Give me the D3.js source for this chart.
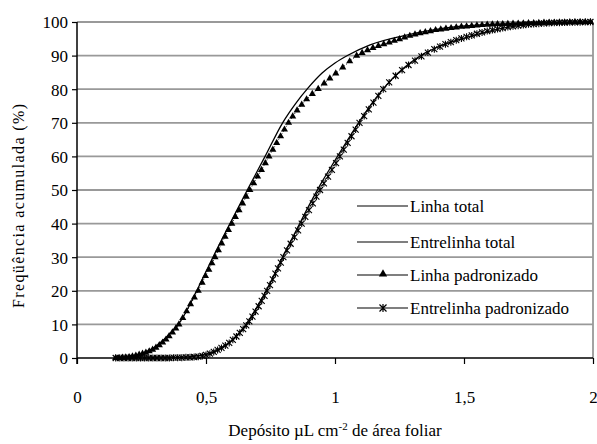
<!DOCTYPE html>
<html>
<head>
<meta charset="utf-8">
<script src="https://cdn.jsdelivr.net/npm/d3@7"></script>
<style>
  body { margin: 0; background: #fff; }
</style>
</head>
<body>
<div id="chart"></div>
<script>
// values: [deposit, cumulative %]
var linhaTotal = [[0.15,0],[0.2,0.3],[0.25,1.2],[0.3,3.2],[0.35,6.5],[0.4,10.8],[0.464,20],[0.527,30],
  [0.593,40],[0.66,50],[0.729,60],[0.797,70],[0.848,75.8],[0.895,80.3],[0.95,84.8],[1.0,87.8],[1.05,90.1],
  [1.136,93.2],[1.264,95.9],[1.37,97.5],[1.47,98.6],[1.6,99.3],[1.75,99.7],[2.0,100]];

var entrelinhaTotal = [[0.15,0],[0.3,0],[0.4,0.2],[0.5,1.0],[0.55,2.5],[0.6,5.3],[0.65,9.5],[0.7,15.5],
  [0.75,22.5],[0.8,30.5],[0.85,38],[0.9,45.5],[0.95,52.5],[1.0,58.8],[1.05,65],[1.1,71],[1.15,76.5],
  [1.2,81.3],[1.25,85.2],[1.3,88.3],[1.35,90.8],[1.4,92.6],[1.5,95.2],[1.6,97.3],[1.7,98.8],[1.8,99.6],
  [1.9,99.9],[2.0,100]];

var linhaPadr = [[0.15,0],[0.163,0],[0.176,0.1],[0.189,0.2],[0.202,0.3],[0.215,0.5],[0.228,0.7],[0.241,1.0],
  [0.254,1.3],[0.267,1.6],[0.28,2.0],[0.293,2.5],[0.306,3.1],[0.319,3.8],[0.332,4.6],[0.345,5.5],[0.357,6.5],
  [0.37,7.6],[0.383,8.8],[0.395,10],[0.41,11.9],[0.425,13.9],[0.44,16.0],[0.455,18.0],[0.47,20],
  [0.485,22.4],[0.498,24.4],[0.511,26.3],[0.523,28.2],[0.535,30],[0.548,32.1],[0.561,34.1],[0.574,36.1],
  [0.587,38.1],[0.6,40],[0.614,42],[0.628,44],[0.642,46],[0.656,48],[0.67,50],[0.685,52],[0.7,54],
  [0.715,56],[0.73,58],[0.744,60],[0.759,62],[0.774,64],[0.789,66],[0.804,68],[0.82,70],[0.836,71.9],
  [0.853,73.7],[0.871,75.4],[0.89,77.0],[0.912,78.6],[0.935,80.1],[0.958,81.7],[0.98,83.2],[1.003,84.7],
  [1.03,86.5],[1.057,88.3],[1.084,90],[1.105,90.8],[1.126,91.6],[1.147,92.3],[1.168,92.9],[1.189,93.4],
  [1.21,93.9],[1.23,94.4],[1.25,94.9],[1.27,95.4],[1.29,95.9],[1.31,96.3],[1.33,96.7],[1.35,97.0],
  [1.37,97.3],[1.39,97.6],[1.41,97.8],[1.43,98.0],[1.45,98.2],[1.47,98.4],[1.49,98.6],[1.51,98.7],
  [1.53,98.85],[1.55,99.0],[1.57,99.1],[1.59,99.2],[1.61,99.3],[1.63,99.35],[1.65,99.4],[1.67,99.45],
  [1.69,99.5],[1.71,99.55],[1.73,99.6],[1.75,99.65],[1.77,99.7],[1.79,99.75],[1.81,99.8],[1.83,99.82],
  [1.85,99.85],[1.87,99.88],[1.89,99.9],[1.91,99.92],[1.93,99.94],[1.95,99.96],[1.97,99.98],[1.99,100]];

var entrelinhaPadr = [[0.15,0],[0.166,0],[0.182,0],[0.198,0],[0.214,0],[0.23,0],[0.246,0],[0.262,0],
  [0.278,0],[0.294,0],[0.31,0],[0.326,0],[0.342,0],[0.358,0],[0.374,0.1],[0.39,0.1],[0.406,0.1],
  [0.422,0.2],[0.438,0.2],[0.454,0.3],[0.47,0.4],[0.486,0.6],[0.5,0.9],[0.515,1.3],[0.53,1.8],[0.545,2.4],
  [0.56,3.0],[0.575,3.7],[0.59,4.5],[0.604,5.4],[0.618,6.4],[0.631,7.5],[0.644,8.6],[0.656,9.7],
  [0.668,10.9],[0.68,12.3],[0.692,13.8],[0.704,15.4],[0.716,17.0],[0.727,18.5],[0.737,20],[0.748,21.7],
  [0.759,23.4],[0.769,25.1],[0.779,26.7],[0.79,28.4],[0.8,30],[0.814,32],[0.828,34],[0.843,36],
  [0.857,38],[0.871,40],[0.885,42],[0.899,44],[0.914,46],[0.928,48],[0.942,50],[0.957,52],[0.973,54],
  [0.988,56],[1.004,58],[1.019,60],[1.034,62],[1.049,64],[1.064,66],[1.08,68],[1.095,70],[1.113,72],
  [1.131,74],[1.149,76],[1.168,78],[1.187,80],[1.21,82],[1.235,84],[1.26,85.7],[1.285,87.2],[1.31,88.5],
  [1.335,89.8],[1.36,90.9],[1.385,91.9],[1.407,92.7],[1.428,93.4],[1.449,94.0],[1.47,94.6],[1.49,95.1],
  [1.51,95.6],[1.53,96.0],[1.55,96.5],[1.57,96.9],[1.59,97.3],[1.61,97.6],[1.63,97.9],[1.65,98.2],
  [1.67,98.5],[1.69,98.7],[1.71,98.9],[1.73,99.1],[1.75,99.3],[1.77,99.4],[1.79,99.5],[1.81,99.6],
  [1.83,99.7],[1.85,99.75],[1.87,99.8],[1.89,99.85],[1.91,99.9],[1.93,99.92],[1.95,99.95],[1.97,99.97],
  [1.99,100]];

var xTicks = [0, 0.5, 1, 1.5, 2];
var yTicks = [0, 10, 20, 30, 40, 50, 60, 70, 80, 90, 100];
var legendNames = ["Linha total", "Entrelinha total", "Linha padronizado", "Entrelinha padronizado"];

var width = 597, height = 444;
var mLeft = 77, mRight = 593, mTop = 22, mBottom = 358;
var serif = "'Liberation Serif'";
var fs = "17px";

var svg = d3.select("#chart").append("svg")
    .attr("width", width)
    .attr("height", height)
    .style("font-family", serif);

svg.append("rect").attr("width", width).attr("height", height).attr("fill", "#fff");

var x = d3.scaleLinear().domain([0, 2]).range([mLeft, mRight]);
var y = d3.scaleLinear().domain([0, 100]).range([mBottom, mTop]);

// gridlines
svg.append("g").selectAll("line")
  .data(yTicks.filter(d => d > 0))
  .enter().append("line")
    .attr("x1", mLeft).attr("x2", mRight)
    .attr("y1", d => y(d)).attr("y2", d => y(d))
    .attr("stroke", "#999").attr("stroke-width", 1.8);

// right border
svg.append("line")
  .attr("x1", mRight).attr("x2", mRight).attr("y1", mTop).attr("y2", mBottom)
  .attr("stroke", "#999").attr("stroke-width", 1.8);

// axes
var yAxis = svg.append("g")
  .attr("transform", "translate(" + mLeft + ",0)")
  .call(d3.axisLeft(y).tickValues(yTicks).tickSize(5).tickPadding(4));
var xAxis = svg.append("g")
  .attr("transform", "translate(0," + mBottom + ")")
  .call(d3.axisBottom(x).tickValues(xTicks).tickSize(6).tickPadding(27)
    .tickFormat(d => String(d).replace(".", ",")));

[yAxis, xAxis].forEach(function(a) {
  a.attr("font-family", null).style("font-family", serif);
  a.select(".domain").attr("stroke", "#000").attr("stroke-width", 1.5);
  a.selectAll(".tick line").attr("stroke", "#000").attr("stroke-width", 1.2);
  a.selectAll("text").attr("fill", "#000")
    .style("font-family", serif).style("font-size", fs);
});
yAxis.select(".domain").attr("d", "M0," + mTop + "V" + (mBottom + 6));
xAxis.select(".domain").attr("d", "M" + mLeft + ",0H" + mRight);
yAxis.selectAll("text").attr("dy", "0.35em");

// lines
var line = d3.line().x(d => x(d[0])).y(d => y(d[1]));
var smooth = d3.line().x(d => x(d[0])).y(d => y(d[1])).curve(d3.curveMonotoneX);

svg.append("path").datum(linhaTotal).attr("d", smooth)
  .attr("fill", "none").attr("stroke", "#000").attr("stroke-width", 1.3);
svg.append("path").datum(entrelinhaTotal).attr("d", smooth)
  .attr("fill", "none").attr("stroke", "#000").attr("stroke-width", 1.3);
svg.append("path").datum(linhaPadr).attr("d", line)
  .attr("fill", "none").attr("stroke", "#000").attr("stroke-width", 1).attr("stroke-dasharray", "1,2");
svg.append("path").datum(entrelinhaPadr).attr("d", line)
  .attr("fill", "none").attr("stroke", "#000").attr("stroke-width", 1).attr("stroke-dasharray", "1,2");

// markers
var tri = d3.symbol().type(d3.symbolTriangle).size(22);
function starPath(s) {
  return "M" + (-s) + "," + (-s) + "L" + s + "," + s +
         "M" + (-s) + "," + s + "L" + s + "," + (-s) +
         "M0," + (-s - 0.5) + "L0," + (s + 0.5);
}

svg.append("g").selectAll("path")
  .data(linhaPadr).enter().append("path")
    .attr("transform", d => "translate(" + x(d[0]) + "," + y(d[1]) + ")")
    .attr("d", tri).attr("fill", "#000");

svg.append("g").selectAll("path")
  .data(entrelinhaPadr).enter().append("path")
    .attr("transform", d => "translate(" + x(d[0]) + "," + y(d[1]) + ")")
    .attr("d", starPath(3)).attr("fill", "none").attr("stroke", "#000").attr("stroke-width", 1.1);

// legend
var legY = [206, 242, 275, 308];
var leg = svg.append("g").selectAll("g")
  .data(legendNames).enter().append("g")
    .attr("transform", (d, i) => "translate(357," + legY[i] + ")");
leg.append("line").attr("x1", 0).attr("x2", 51).attr("stroke", "#000").attr("stroke-width", 1.2);
leg.append("text").attr("x", 53).attr("dy", "0.35em")
  .style("font-family", serif).style("font-size", fs).text(d => d);
leg.filter((d, i) => i === 2).append("path")
  .attr("transform", "translate(26,-1)").attr("d", d3.symbol().type(d3.symbolTriangle).size(30)).attr("fill", "#000");
leg.filter((d, i) => i === 3).append("path")
  .attr("transform", "translate(26,0)").attr("d", starPath(3.5)).attr("fill", "none").attr("stroke", "#000").attr("stroke-width", 1.2);

// axis titles
svg.append("text")
  .attr("transform", "translate(24,206) rotate(-90)")
  .attr("text-anchor", "middle")
  .style("font-family", serif).style("font-size", "16px")
  .attr("textLength", 204).attr("lengthAdjust", "spacing")
  .text("Freqüência acumulada (%)");

var xt = svg.append("text")
  .attr("x", (mLeft + mRight) / 2).attr("y", 436)
  .attr("text-anchor", "middle")
  .style("font-family", serif).style("font-size", fs);
xt.append("tspan").text("Depósito µL cm");
xt.append("tspan").attr("dy", -6).style("font-size", "11px").text("-2");
xt.append("tspan").attr("dy", 6).text(" de área foliar");
</script>
</body>
</html>
